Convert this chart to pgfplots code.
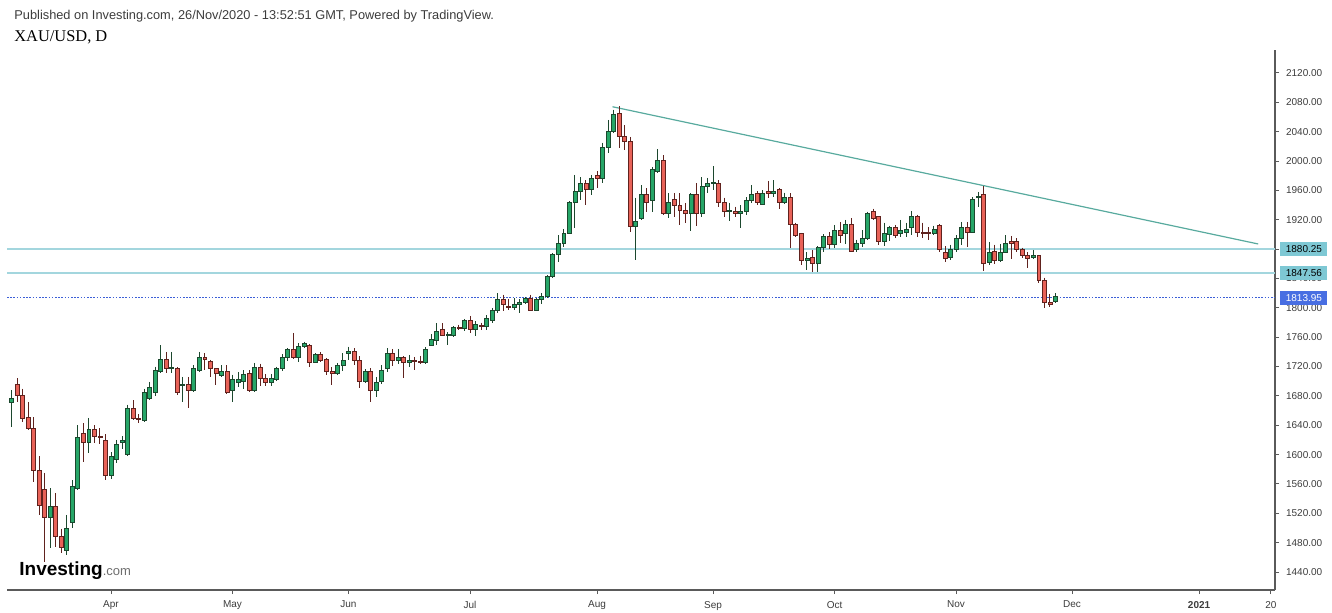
\documentclass[border=0pt]{standalone}
\usepackage{pgfplots}
\pgfplotsset{compat=1.18}
\usepackage{fontspec}
\setmainfont{Liberation Sans}
\newfontfamily\seriffont{Liberation Serif}
\definecolor{cgreen}{RGB}{38,166,104}
\definecolor{cred}{RGB}{232,98,88}
\definecolor{cdgreen}{RGB}{28,72,46}
\definecolor{cdred}{RGB}{96,34,30}
\definecolor{hlinec}{RGB}{163,214,222}
\definecolor{trendc}{RGB}{88,170,158}
\definecolor{dotblue}{RGB}{60,95,215}
\definecolor{boxteal}{RGB}{126,200,212}
\definecolor{boxblue}{RGB}{72,110,226}
\definecolor{axisgray}{RGB}{90,90,90}
\definecolor{labgray}{RGB}{60,60,60}
\newcommand\lab{\fontsize{5}{6}\selectfont}
\pgfplotsset{candle/.style={
  only marks, mark=*, mark size=0pt, mark options={draw=none,fill=none},
  scatter,
  visualization depends on={\thisrow{O} \as \vO},
  visualization depends on={\thisrow{H} \as \vH},
  visualization depends on={\thisrow{L} \as \vL},
  visualization depends on={\thisrow{C} \as \vC},
  scatter/@pre marker code/.code={%
    \pgfmathsetmacro\dO{\vO-\vC}%
    \pgfmathsetmacro\dH{\vH-\vC}%
    \pgfmathsetmacro\dL{\vL-\vC}%
    \pgfmathparse{(\vC<\vO)?1:0}%
    \ifnum\pgfmathresult=1 \def\fc{cred}\def\lc{cdred}\else\def\fc{cgreen}\def\lc{cdgreen}\fi
    \draw[\lc, line width=0.5pt] (axis direction cs:0,\dH) -- (axis direction cs:0,\dL);
    \filldraw[fill=\fc, draw=\lc, line width=0.4pt] (axis direction cs:-0.36,0) rectangle (axis direction cs:0.36,\dO);
  },
  scatter/@post marker code/.code={},
}}
\begin{document}
\begin{tikzpicture}[x=1pt,y=1pt]
\path[use as bounding box] (0,0) rectangle (666,306);
\begin{axis}[
  at={(3.5pt,11pt)}, anchor=south west,
  scale only axis, width=634pt, height=270pt,
  xmin=-0.83, xmax=228.75, ymin=1415.5, ymax=2151.3,
  axis x line*=bottom, axis y line*=right,
  axis line style={axisgray, line width=0.6pt, -},
  tick align=outside, major tick length=2pt,
  tick style={axisgray, line width=0.5pt},
  xtick={18,40,61,83,106,127,149,171,192,215,228},
  xticklabels={Apr,May,Jun,Jul,Aug,Sep,Oct,Nov,Dec,\textbf{2021},20},
  ytick={1440,1480,...,2120},
  y tick label style={/pgf/number format/fixed, /pgf/number format/fixed zerofill,
    /pgf/number format/precision=2, /pgf/number format/1000 sep={},
    /pgf/number format/assume math mode=true},
  yticklabel style={font=\lab, text=labgray, anchor=west},
  xticklabel style={font=\lab, text=labgray},
  clip=false,
]
\addplot[hlinec, line width=0.7pt] coordinates {(-0.83,1880.25) (228.75,1880.25)};
\addplot[hlinec, line width=0.7pt] coordinates {(-0.83,1847.56) (228.75,1847.56)};
\addplot[dotblue, line width=0.5pt, dash pattern=on 0.8pt off 0.8pt] coordinates {(-0.83,1813.95) (228.75,1813.95)};
\addplot[candle] table[x=i, y=C] {
i O H L C
0 1671 1688 1638 1676
1 1695 1704 1672 1681
2 1680 1690 1645 1650
3 1651 1672 1633 1636
4 1636 1651 1563 1579
5 1579 1598 1518 1531
6 1552 1575 1454 1515
7 1514 1554 1473 1530
8 1530 1548 1474 1488
9 1488 1499 1466 1473
10 1470 1518 1463 1500
11 1508 1565 1500 1556
12 1554 1640 1552 1624
13 1629 1643 1590 1616
14 1617 1650 1602 1634
15 1634 1640 1616 1625
16 1625 1636 1614 1623
17 1620 1628 1565 1572
18 1572 1603 1567 1597
19 1594 1620 1588 1614
20 1616 1625 1608 1620
21 1600 1668 1598 1663
22 1663 1674 1647 1650
23 1649 1655 1643 1648
24 1647 1690 1645 1685
25 1677 1699 1674 1692
26 1685 1720 1680 1715
27 1713 1749 1711 1730
28 1730 1740 1711 1718
29 1718 1740 1711 1719
30 1717 1719 1681 1685
31 1694 1706 1672 1696
32 1695 1706 1663 1687
33 1688 1722 1685 1717
34 1715 1740 1713 1733
35 1733 1738 1715 1730
36 1727 1729 1706 1717
37 1717 1718 1695 1710
38 1708 1722 1706 1714
39 1714 1722 1683 1685
40 1687 1709 1672 1702
41 1699 1712 1692 1703
42 1700 1715 1690 1709
43 1710 1715 1685 1687
44 1687 1725 1685 1719
45 1719 1724 1694 1704
46 1704 1710 1694 1698
47 1698 1710 1693 1704
48 1703 1720 1700 1717
49 1717 1737 1714 1732
50 1732 1745 1728 1744
51 1744 1766 1730 1732
52 1733 1752 1726 1747
53 1747 1754 1745 1751
54 1749 1751 1719 1726
55 1726 1738 1725 1737
56 1736 1740 1726 1729
57 1730 1731 1708 1713
58 1714 1719 1695 1710
59 1710 1725 1708 1721
60 1721 1738 1714 1729
61 1738 1747 1729 1741
62 1741 1745 1722 1729
63 1729 1734 1691 1700
64 1700 1716 1697 1713
65 1713 1718 1672 1687
66 1687 1706 1679 1699
67 1700 1722 1696 1715
68 1717 1745 1713 1738
69 1738 1744 1721 1729
70 1728 1744 1723 1732
71 1733 1734 1704 1726
72 1726 1736 1719 1728
73 1728 1733 1715 1727
74 1727 1735 1723 1725
75 1725 1746 1724 1744
76 1749 1764 1748 1757
77 1756 1779 1749 1768
78 1771 1779 1761 1763
79 1762 1767 1749 1764
80 1762 1775 1760 1773
81 1774 1777 1770 1772
82 1772 1785 1769 1783
83 1783 1789 1766 1770
84 1770 1782 1762 1777
85 1776 1780 1770 1775
86 1775 1790 1770 1785
87 1783 1800 1780 1797
88 1796 1820 1793 1812
89 1812 1818 1795 1804
90 1802 1812 1797 1800
91 1800 1813 1797 1804
92 1804 1812 1793 1808
93 1808 1815 1805 1813
94 1813 1818 1795 1797
95 1797 1814 1795 1811
96 1811 1820 1805 1816
97 1816 1845 1814 1843
98 1843 1875 1841 1873
99 1873 1899 1862 1888
100 1888 1907 1883 1902
101 1901 1945 1900 1943
102 1943 1981 1909 1959
103 1959 1978 1947 1970
104 1970 1974 1940 1961
105 1961 1981 1954 1977
106 1981 1986 1963 1977
107 1977 2025 1970 2019
108 2018 2056 2011 2040
109 2040 2070 2038 2064
110 2065 2075 2018 2034
111 2034 2049 2015 2027
112 2027 2033 1903 1911
113 1911 1950 1865 1918
114 1922 1967 1920 1954
115 1955 1963 1931 1944
116 1947 1992 1931 1988
117 1986 2016 1984 2001
118 2001 2008 1926 1929
119 1929 1956 1922 1944
120 1948 1956 1924 1940
121 1940 1956 1913 1933
122 1933 1943 1916 1928
123 1929 1956 1905 1954
124 1954 1970 1912 1929
125 1929 1978 1924 1965
126 1965 1977 1956 1970
127 1969 1993 1961 1971
128 1970 1974 1937 1943
129 1943 1950 1924 1931
130 1932 1943 1918 1933
131 1932 1938 1924 1929
132 1929 1940 1909 1931
133 1931 1951 1927 1947
134 1946 1967 1943 1955
135 1956 1959 1940 1943
136 1941 1960 1940 1956
137 1958 1973 1950 1956
138 1956 1974 1951 1959
139 1961 1963 1935 1943
140 1944 1957 1942 1950
141 1950 1956 1882 1913
142 1913 1916 1897 1899
143 1901 1902 1858 1864
144 1864 1876 1852 1868
145 1869 1879 1849 1861
146 1860 1884 1849 1883
147 1883 1900 1876 1898
148 1898 1903 1880 1886
149 1887 1913 1882 1905
150 1905 1917 1888 1899
151 1902 1920 1887 1913
152 1913 1922 1876 1877
153 1879 1893 1876 1888
154 1888 1906 1883 1894
155 1894 1931 1893 1929
156 1931 1935 1920 1922
157 1924 1924 1886 1891
158 1891 1916 1884 1902
159 1900 1912 1891 1909
160 1909 1913 1895 1899
161 1901 1920 1897 1905
162 1903 1916 1897 1907
163 1910 1932 1899 1925
164 1925 1927 1897 1903
165 1903 1916 1895 1901
166 1903 1910 1892 1901
167 1902 1912 1899 1907
168 1912 1914 1876 1879
169 1876 1884 1862 1868
170 1869 1886 1865 1879
171 1879 1899 1876 1895
172 1895 1917 1886 1909
173 1910 1917 1883 1903
174 1903 1951 1902 1948
175 1950 1958 1937 1952
176 1954 1966 1850 1861
177 1862 1890 1858 1876
178 1877 1886 1860 1865
179 1865 1887 1862 1876
180 1876 1899 1875 1888
181 1890 1898 1867 1888
182 1890 1895 1876 1879
183 1880 1882 1868 1871
184 1872 1876 1854 1868
185 1869 1879 1866 1871
186 1871 1872 1834 1837
187 1837 1841 1800 1807
188 1808 1819 1801 1805
189 1809 1820 1806 1815
};
\addplot[trendc, line width=0.6pt] coordinates {(108.8,2074) (225.7,1887)};
\coordinate (b1) at (axis cs:228.75,1880.25);
\coordinate (b2) at (axis cs:228.75,1847.56);
\coordinate (b3) at (axis cs:228.75,1813.95);
\end{axis}
\node[anchor=west, fill=boxteal, minimum width=23.5pt, minimum height=7pt, inner sep=0pt, font=\lab, text=black] at ([xshift=2.5pt]b1) {1880.25};
\node[anchor=west, fill=boxteal, minimum width=23.5pt, minimum height=7pt, inner sep=0pt, font=\lab, text=black] at ([xshift=2.5pt]b2) {1847.56};
\node[anchor=west, fill=boxblue, minimum width=23.5pt, minimum height=7pt, inner sep=0pt, font=\lab, text=white] at ([xshift=2.5pt]b3) {1813.95};
\node[anchor=west, inner sep=0pt, font=\fontsize{6.4}{7.5}\selectfont, text=labgray] at (7,298) {Published on Investing.com, 26/Nov/2020 - 13:52:51 GMT, Powered by TradingView.};
\node[anchor=west, inner sep=0pt, font=\seriffont\fontsize{8.2}{10}\selectfont] at (7,287.5) {XAU/USD, D};
\node[anchor=base west, inner sep=0pt, font=\bfseries\fontsize{9.5}{11}\selectfont] at (9.5,18.5) {Investing\textcolor[RGB]{110,110,110}{\mdseries\fontsize{6.5}{8}\selectfont.com}};
\end{tikzpicture}
\end{document}
